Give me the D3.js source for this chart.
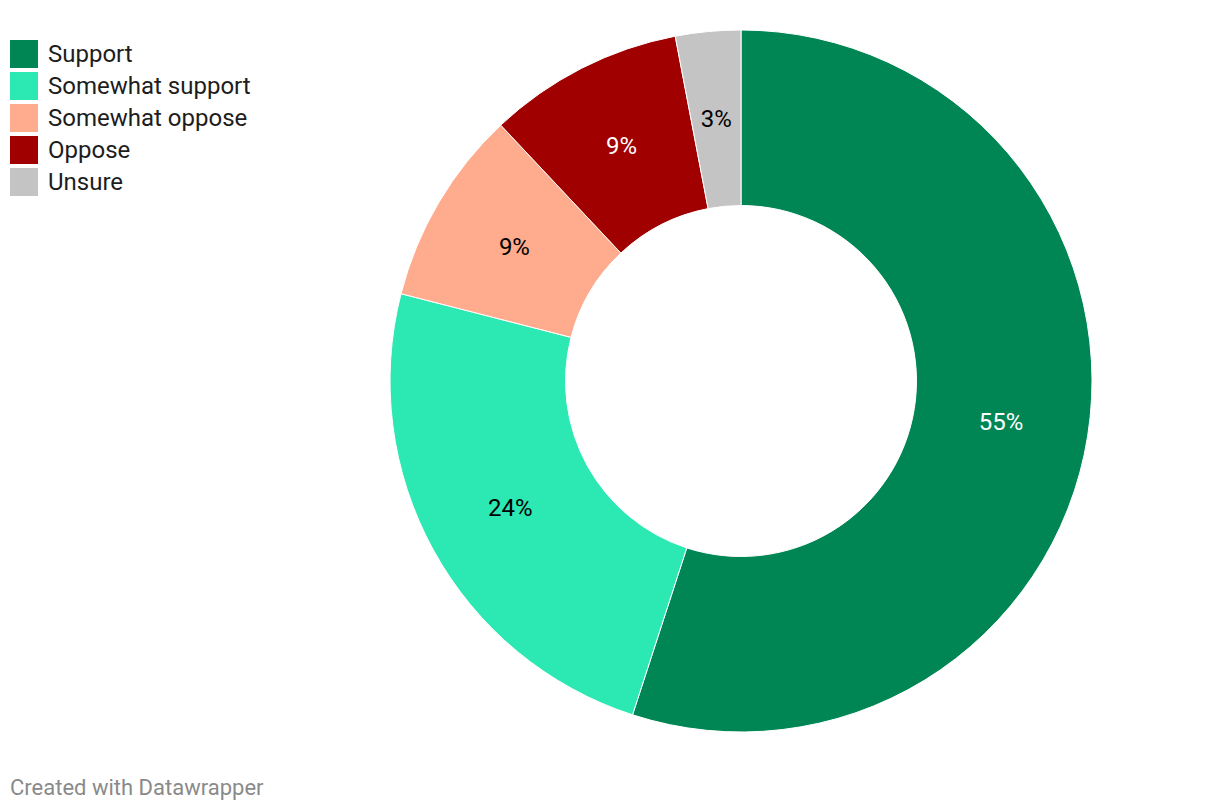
<!DOCTYPE html>
<html><head><meta charset="utf-8">
<script src="https://cdn.jsdelivr.net/npm/d3@7"></script>
<style>
html,body{margin:0;padding:0;background:#fff;}
svg{display:block;font-family:Roboto, sans-serif;}
</style></head>
<body>
<svg id="chart" width="1220" height="810"></svg>
<script>
const categories = ["Support", "Somewhat support", "Somewhat oppose", "Oppose", "Unsure"];
const values = [55, 24, 9, 9, 3];
const colors = ["#008655", "#2ce8b3", "#ffab8e", "#a00000", "#c4c4c4"];
const labelColors = ["#ffffff", "#000000", "#000000", "#ffffff", "#000000"];

const svg = d3.select("#chart");
const cx = 741, cy = 381, outerR = 351, innerR = 175.5;

const data = categories.map((c, i) => ({ name: c, value: values[i], color: colors[i], lc: labelColors[i] }));
const pie = d3.pie().value(d => d.value).sort(null);
const arc = d3.arc().innerRadius(innerR).outerRadius(outerR);
const arcs = pie(data);

const g = svg.append("g").attr("transform", `translate(${cx},${cy})`);
g.selectAll("path").data(arcs).join("path")
  .attr("d", arc)
  .attr("fill", d => d.data.color)
  .attr("stroke", "#fff")
  .attr("stroke-width", 1);

g.selectAll("text").data(arcs).join("text")
  .attr("transform", d => `translate(${arc.centroid(d)})`)
  .attr("text-anchor", "middle")
  .attr("dominant-baseline", "central")
  .attr("font-size", 24)
  .attr("fill", d => d.data.lc)
  .text(d => d.data.value + "%");

const legend = svg.append("g");
const rows = legend.selectAll("g").data(data).join("g")
  .attr("transform", (d, i) => `translate(10,${40 + i * 32})`);
rows.append("rect").attr("width", 28).attr("height", 28).attr("fill", d => d.color);
rows.append("text").attr("x", 38).attr("y", 14)
  .attr("dominant-baseline", "central")
  .attr("font-size", 24).attr("fill", "#1d1d1d")
  .text(d => d.name);

svg.append("text").attr("x", 10).attr("y", 795)
  .attr("font-size", 22).attr("fill", "#8a8a8a")
  .text("Created with Datawrapper");
</script>
</body></html>
